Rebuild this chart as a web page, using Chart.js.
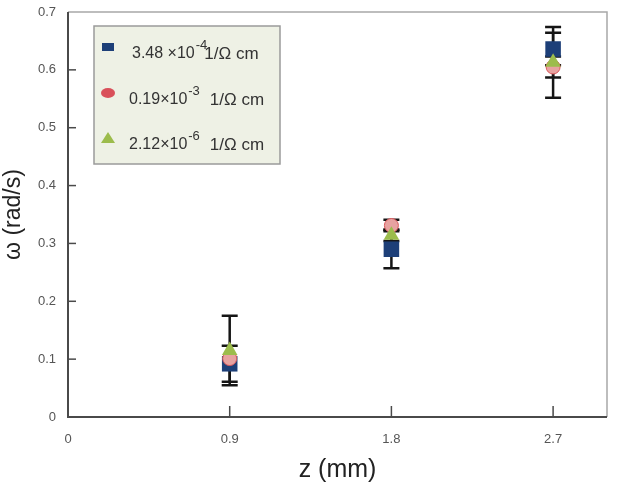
<!DOCTYPE html>
<html>
<head>
<meta charset="utf-8">
<script src="https://cdn.jsdelivr.net/npm/chart.js@4.4.1/dist/chart.umd.min.js"></script>
<style>
  html, body { margin: 0; padding: 0; background: #fff; }
  #wrap { width: 619px; height: 483px; }
</style>
</head>
<body>
<div id="wrap"><canvas id="chart"></canvas></div>
<script>
// data
var zValues = [0.9, 1.8, 2.7];
var xTicks = [0, 0.9, 1.8, 2.7];

var omegaA = [0.092, 0.290, 0.636];
var errA   = [0.031, 0.033, 0.028];
var omegaB = [0.101, 0.331, 0.605];
var errB   = [0.000, 0.010, 0.018];
var omegaC = [0.115, 0.314, 0.613];
var errC   = [0.060, 0.010, 0.061];

var legendMantissa = ['3.48 \u00d710', '0.19\u00d710', '2.12\u00d710'];
var legendExponent = ['-4', '-3', '-6'];
var legendUnit = '1/\u03a9 cm';

var colSquare = '#1d3f78';
var colCircle = '#e7a2a0';
var colCircleEdge = '#d9585c';
var colTriangle = '#9cbc4c';

function pts(vals) {
    return vals.map(function (v, i) { return { x: zValues[i], y: v }; });
}

var errorBars = {
    id: 'errorBars',
    beforeDatasetsDraw: function (chart) {
        var ctx = chart.ctx;
        var xs = chart.scales.x, ys = chart.scales.y;
        ctx.save();
        ctx.strokeStyle = '#151515';
        ctx.lineWidth = 2.5;
        chart.data.datasets.forEach(function (ds) {
            ds.data.forEach(function (p, j) {
                var e = ds.errors[j];
                if (!e) { return; }
                var x = xs.getPixelForValue(p.x);
                var y1 = ys.getPixelForValue(p.y - e);
                var y2 = ys.getPixelForValue(p.y + e);
                ctx.beginPath();
                ctx.moveTo(x, y1); ctx.lineTo(x, y2);
                ctx.moveTo(x - 8, y1); ctx.lineTo(x + 8, y1);
                ctx.moveTo(x - 8, y2); ctx.lineTo(x + 8, y2);
                ctx.stroke();
            });
        });
        ctx.restore();
    }
};

var frame = {
    id: 'frame',
    afterDraw: function (chart) {
        var ctx = chart.ctx, a = chart.chartArea;
        var xs = chart.scales.x, ys = chart.scales.y;
        ctx.save();
        // light top / right border
        ctx.strokeStyle = '#a8a8a8';
        ctx.lineWidth = 1.5;
        ctx.beginPath();
        ctx.moveTo(a.left, a.top); ctx.lineTo(a.right, a.top); ctx.lineTo(a.right, a.bottom);
        ctx.stroke();
        // dark left / bottom axes
        ctx.strokeStyle = '#4a4a4a';
        ctx.lineWidth = 2;
        ctx.beginPath();
        ctx.moveTo(a.left, a.top); ctx.lineTo(a.left, a.bottom); ctx.lineTo(a.right, a.bottom);
        ctx.stroke();
        // inward tick marks
        ctx.lineWidth = 1.5;
        ys.ticks.forEach(function (t) {
            if (t.value <= 0 || t.value >= 0.7) { return; }
            var y = ys.getPixelForValue(t.value);
            ctx.beginPath(); ctx.moveTo(a.left, y); ctx.lineTo(a.left + 8, y); ctx.stroke();
        });
        xs.ticks.forEach(function (t) {
            if (t.value <= 0) { return; }
            var x = xs.getPixelForValue(t.value);
            ctx.beginPath(); ctx.moveTo(x, a.bottom); ctx.lineTo(x, a.bottom - 11); ctx.stroke();
        });
        ctx.restore();
    }
};

var legendBox = {
    id: 'legendBox',
    afterDraw: function (chart) {
        var ctx = chart.ctx;
        var bx = 94, by = 26, bw = 186, bh = 138;
        ctx.save();
        ctx.fillStyle = '#eef1e5';
        ctx.fillRect(bx, by, bw, bh);
        ctx.strokeStyle = '#9a9a9a';
        ctx.lineWidth = 1.5;
        ctx.strokeRect(bx, by, bw, bh);

        var rows = [47, 93, 138];
        // markers
        ctx.fillStyle = colSquare;
        ctx.fillRect(102, rows[0] - 4, 12, 8);
        ctx.fillStyle = '#d9505a';
        ctx.beginPath(); ctx.ellipse(108, rows[1], 7, 5, 0, 0, Math.PI * 2); ctx.fill();
        ctx.fillStyle = colTriangle;
        ctx.beginPath();
        ctx.moveTo(108, rows[2] - 6); ctx.lineTo(115, rows[2] + 5); ctx.lineTo(101, rows[2] + 5);
        ctx.closePath(); ctx.fill();

        // labels with superscripts
        ctx.fillStyle = '#333';
        ctx.textBaseline = 'alphabetic';
        for (var i = 0; i < 3; i++) {
            var base = rows[i] + 11;
            var x = i === 0 ? 132 : 129;
            ctx.font = '16px "Liberation Sans", Arial, sans-serif';
            ctx.fillText(legendMantissa[i], x, base);
            x += ctx.measureText(legendMantissa[i]).width + 1;
            ctx.font = '13px "Liberation Sans", Arial, sans-serif';
            ctx.fillText(legendExponent[i], x, base - 9);
            x += ctx.measureText(legendExponent[i]).width + (i === 0 ? -3 : 10);
            ctx.font = '17px "Liberation Sans", Arial, sans-serif';
            ctx.fillText(legendUnit, x, base + 1);
        }
        ctx.restore();
    }
};

var chart = new Chart(document.getElementById('chart'), {
    type: 'scatter',
    data: {
        datasets: [
            {
                label: legendMantissa[0],
                data: pts(omegaA),
                errors: errA,
                pointStyle: 'rect',
                pointRadius: 11,
                backgroundColor: colSquare,
                borderColor: colSquare,
                borderWidth: 0,
                order: 3
            },
            {
                label: legendMantissa[1],
                data: pts(omegaB),
                errors: errB,
                pointStyle: 'circle',
                pointRadius: 7,
                backgroundColor: colCircle,
                borderColor: colCircleEdge,
                borderWidth: 1,
                order: 2
            },
            {
                label: legendMantissa[2],
                data: pts(omegaC),
                errors: errC,
                pointStyle: 'triangle',
                pointRadius: 9,
                backgroundColor: colTriangle,
                borderColor: colTriangle,
                borderWidth: 0,
                order: 1
            }
        ]
    },
    options: {
        responsive: true,
        maintainAspectRatio: false,
        animation: false,
        layout: { padding: { left: 0, right: 12, top: 12, bottom: 0 } },
        plugins: {
            legend: { display: false },
            tooltip: { enabled: false }
        },
        scales: {
            x: {
                type: 'linear',
                min: 0,
                max: 3.0,
                afterBuildTicks: function (s) {
                    s.ticks = xTicks.map(function (v) { return { value: v }; });
                },
                afterFit: function (s) {
                    s.height = 66;
                    s.paddingLeft = 0;
                    s.paddingRight = 0;
                },
                grid: { display: false, drawTicks: false },
                border: { display: false },
                ticks: {
                    padding: 15,
                    color: '#555',
                    font: { family: '"Liberation Sans", Arial, sans-serif', size: 13 },
                    callback: function (v) { return String(v); }
                },
                title: {
                    display: true,
                    text: 'z (mm)',
                    color: '#222',
                    font: { family: '"Liberation Sans", Arial, sans-serif', size: 25 },
                    padding: { top: 0, bottom: -2 }
                }
            },
            y: {
                min: 0,
                max: 0.7,
                afterFit: function (s) {
                    s.width = 68;
                    s.paddingTop = 0;
                    s.paddingBottom = 0;
                },
                grid: { display: false, drawTicks: false },
                border: { display: false },
                ticks: {
                    stepSize: 0.1,
                    padding: 12,
                    color: '#555',
                    font: { family: '"Liberation Sans", Arial, sans-serif', size: 13 },
                    callback: function (v) { return String(Math.round(v * 10) / 10); }
                },
                title: {
                    display: true,
                    text: '\u03c9 (rad/s)',
                    color: '#222',
                    font: { family: '"Liberation Sans", Arial, sans-serif', size: 23 },
                    padding: { top: 0, bottom: 0 }
                }
            }
        }
    },
    plugins: [errorBars, frame, legendBox]
});
</script>
</body>
</html>
